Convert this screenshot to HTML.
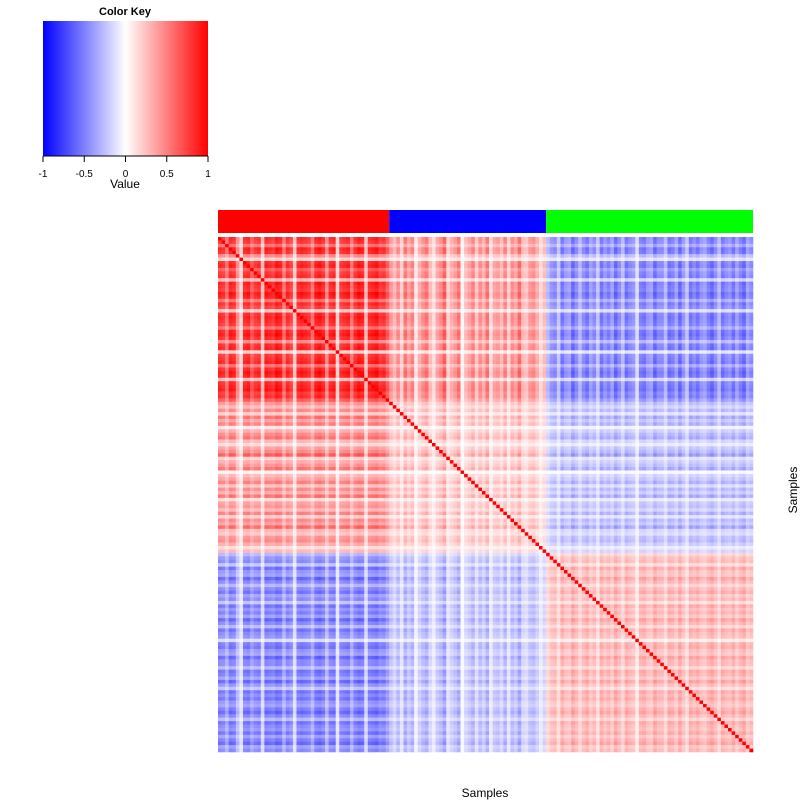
<!DOCTYPE html>
<html><head><meta charset="utf-8"><style>
body{margin:0;background:#fff;width:800px;height:800px;overflow:hidden;font-family:"Liberation Sans",sans-serif}
</style></head><body>
<svg id="chart" width="800" height="800" xmlns="http://www.w3.org/2000/svg" font-family="Liberation Sans, sans-serif">
<defs><linearGradient id="kg" x1="0" x2="1" y1="0" y2="0">
<stop offset="0" stop-color="#0000ff"/><stop offset="0.5" stop-color="#ffffff"/><stop offset="1" stop-color="#ff0000"/></linearGradient></defs>
<g>
<text x="125" y="15" font-size="11" font-weight="bold" text-anchor="middle">Color Key</text>
<rect x="43" y="21" width="165" height="135" fill="url(#kg)"/>
<line x1="43" y1="156" x2="208" y2="156" stroke="#000"/>
<g id="keyticks"></g>
<text x="125" y="188" font-size="12" text-anchor="middle">Value</text>
</g>
<g id="colbar"></g>
<g id="cells"></g>
<text x="485" y="797" font-size="12" text-anchor="middle">Samples</text>
<text x="797" y="490" font-size="12" text-anchor="middle" transform="rotate(-90 797 490)">Samples</text>
</svg>
<script>
const keyTicks=[-1,-0.5,0,0.5,1];
const keyTickLabels=["-1","-0.5","0","0.5","1"];
const groupNames=["red","blue","green"];
const groupColors=["#ff0000","#0000ff","#00ff00"];
const groupSizes=[48,44,58];
// per-sample loading on main correlation axis
const scoresRed=[0.9,0.85,0.6,0.95,0.9,0.5,0.2,0.9,0.95,0.7,0.85,0.9,0.3,0.95,0.9,0.85,1.0,0.95,0.6,0.9,0.8,0.25,0.9,0.95,0.9,0.85,0.6,0.95,1.0,0.9,0.5,0.9,0.95,0.2,0.85,0.9,0.95,0.6,0.9,1.0,0.95,0.3,0.9,0.95,1.0,0.85,0.9,0.7];
const scoresBlue=[0.45,0.3,0.5,0.2,0.6,0.4,0.55,0.1,0.35,0.5,0.6,0.3,0.15,0.4,0.5,0.7,0.2,0.35,0.45,0.6,0.05,0.3,0.4,0.55,0.25,0.5,0.35,0.6,0.15,0.4,0.45,0.3,0.55,0.2,0.5,0.4,0.65,0.3,0.25,0.45,0.5,0.35,0.15,0.3];
const scoresGreen=[-0.3,-0.45,-0.5,-0.25,-0.6,-0.45,-0.4,-0.65,-0.5,-0.3,-0.5,-0.6,-0.4,-0.5,-0.25,-0.6,-0.45,-0.55,-0.4,-0.65,-0.5,-0.3,-0.6,-0.5,-0.45,-0.15,-0.55,-0.6,-0.45,-0.4,-0.65,-0.5,-0.5,-0.3,-0.6,-0.55,-0.4,-0.65,-0.45,-0.25,-0.6,-0.5,-0.6,-0.45,-0.4,-0.55,-0.65,-0.5,-0.3,-0.6,-0.5,-0.45,-0.6,-0.4,-0.55,-0.65,-0.4,-0.5];
const NS="http://www.w3.org/2000/svg";
const scores=scoresRed.concat(scoresBlue,scoresGreen);
const N=scores.length;
const X0=218,X1=753,Y0=237,Y1=752;
const cw=(X1-X0)/N,ch=(Y1-Y0)/N;
const xPos=i=>X0+i*cw, yPos=i=>Y0+i*ch;
const keyX=v=>43+(v+1)/2*165;
function col(v){v=Math.max(-1,Math.min(1,v));
 if(v<0){const t=Math.round(255*(1+v));return `rgb(${t},${t},255)`;}
 const t=Math.round(255*(1-v));return `rgb(255,${t},${t})`;}
const kt=document.getElementById('keyticks');
keyTicks.forEach((v,k)=>{
 const l=document.createElementNS(NS,'line');
 
 
 l.setAttribute('x1',keyX(v));l.setAttribute('x2',keyX(v));l.setAttribute('y1',156);l.setAttribute('y2',162);l.setAttribute('stroke','#000');
 kt.appendChild(l);
 const t=document.createElementNS(NS,'text');
 
 
 t.setAttribute('x',keyX(v));t.setAttribute('y',177);t.setAttribute('font-size','10');t.setAttribute('text-anchor','middle');
 t.textContent=keyTickLabels[k];kt.appendChild(t);
});
const cb=document.getElementById('colbar');
let start=0;
groupSizes.forEach((s,g)=>{
 const r=document.createElementNS(NS,'rect');
 
 
 r.setAttribute('x',xPos(start));r.setAttribute('y',210);r.setAttribute('width',s*cw);r.setAttribute('height',23);r.setAttribute('fill',groupColors[g]);
 cb.appendChild(r);start+=s;
});
const cells=document.getElementById('cells');
const frag=document.createDocumentFragment();
for(let i=0;i<N;i++)for(let j=0;j<N;j++){
 const v=i===j?1:scores[i]*scores[j];
 const r=document.createElementNS(NS,'rect');
 
 
 r.setAttribute('x',xPos(j).toFixed(2));r.setAttribute('y',yPos(i).toFixed(2));
 r.setAttribute('width',(cw+0.3).toFixed(2));r.setAttribute('height',(ch+0.3).toFixed(2));
 r.setAttribute('fill',col(v));
 frag.appendChild(r);
}
cells.appendChild(frag);
</script>
</body></html>
